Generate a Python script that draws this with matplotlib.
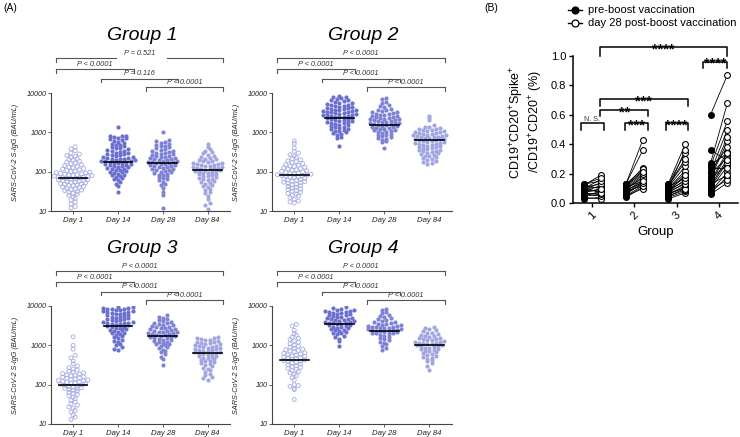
import numpy as np
import matplotlib
matplotlib.use('Agg')
import matplotlib.pyplot as plt
from matplotlib.lines import Line2D
from matplotlib.ticker import NullLocator

plt.rcParams['font.family'] = ['Liberation Sans', 'DejaVu Sans']
plt.rcParams['mathtext.default'] = 'regular'

# ---------------- panel A data (BAU/mL) ----------------
days = ['Day 1', 'Day 14', 'Day 28', 'Day 84']

g1_d1 = [12, 13, 15, 17, 19, 21, 23, 25, 27, 28, 30, 31, 33, 34, 35, 37, 38, 40, 41, 42, 44, 45, 46, 48, 49,
         50, 52, 53, 55, 56, 58, 59, 60, 62, 63, 65, 66, 68, 69, 70, 72, 73, 75, 77, 79, 80, 82, 84, 86, 88,
         90, 93, 95, 98, 101, 104, 108, 112, 116, 120, 125, 130, 136, 142, 150, 158, 166, 175, 185, 195, 205,
         215, 230, 245, 260, 280, 300, 340, 380, 430]
g1_d14 = [30, 42, 48, 55, 60, 64, 68, 72, 76, 80, 84, 88, 92, 96, 100, 104, 108, 112, 116, 120, 124, 128, 132,
          136, 140, 145, 150, 154, 158, 162, 166, 170, 174, 178, 182, 186, 190, 195, 200, 205, 210, 216, 222,
          228, 235, 242, 250, 258, 266, 275, 285, 295, 305, 318, 330, 345, 360, 375, 390, 410, 430, 450, 470,
          490, 520, 550, 580, 610, 640, 670, 700, 730, 760, 790, 800, 820, 1400]
g1_d28 = [12, 25, 30, 38, 45, 50, 55, 60, 64, 68, 72, 76, 80, 84, 88, 92, 96, 100, 104, 108, 112, 116, 120, 124,
          128, 132, 136, 140, 145, 150, 155, 160, 164, 168, 172, 176, 180, 185, 190, 195, 200, 206, 212, 218,
          225, 232, 240, 248, 256, 265, 275, 285, 295, 305, 318, 330, 345, 360, 380, 400, 420, 440, 460, 490,
          520, 550, 580, 610, 640, 1000]
g1_d84 = [11, 14, 16, 20, 24, 28, 31, 34, 37, 40, 43, 46, 49, 52, 55, 58, 61, 64, 67, 70, 73, 76, 79, 82, 85,
          88, 91, 94, 97, 100, 103, 106, 109, 112, 115, 118, 121, 124, 127, 130, 134, 138, 142, 146, 150, 155,
          160, 165, 170, 176, 182, 190, 198, 206, 215, 225, 240, 255, 270, 290, 310, 340, 380, 430, 500]

g2_d1 = [16, 17, 18, 20, 22, 24, 25, 27, 28, 30, 32, 33, 35, 36, 38, 40, 42, 44, 46, 48, 50, 52, 54, 56, 58,
         60, 62, 64, 66, 68, 70, 72, 74, 76, 78, 80, 82, 84, 86, 88, 90, 93, 96, 99, 102, 105, 108, 112, 116,
         120, 125, 130, 135, 140, 146, 152, 160, 170, 180, 190, 200, 215, 230, 250, 270, 300, 330, 400, 520, 600]
g2_d14 = [440, 720, 780, 840, 900, 950, 1000, 1050, 1100, 1150, 1200, 1250, 1300, 1350, 1400, 1450, 1500, 1560,
          1620, 1680, 1740, 1800, 1860, 1920, 1980, 2040, 2100, 2160, 2220, 2280, 2340, 2400, 2460, 2520, 2580,
          2640, 2700, 2770, 2840, 2910, 2980, 3050, 3120, 3200, 3280, 3360, 3440, 3520, 3600, 3700, 3800, 3900,
          4000, 4100, 4200, 4350, 4500, 4650, 4800, 4950, 5100, 5300, 5500, 5700, 5900, 6200, 6500, 6800, 7100,
          7400, 7700, 8000, 8500]
g2_d28 = [410, 560, 600, 640, 680, 720, 760, 800, 840, 880, 920, 960, 1000, 1040, 1080, 1120, 1160, 1200, 1240,
          1280, 1320, 1360, 1400, 1440, 1480, 1520, 1560, 1600, 1640, 1680, 1720, 1760, 1800, 1850, 1900, 1950,
          2000, 2060, 2120, 2180, 2240, 2300, 2370, 2440, 2510, 2580, 2660, 2740, 2820, 2900, 3000, 3100, 3200,
          3300, 3450, 3600, 3800, 4000, 4300, 4700, 5000, 5500, 6000, 7000, 7500]
g2_d84 = [160, 170, 180, 190, 200, 210, 220, 232, 244, 256, 268, 280, 292, 304, 316, 328, 340, 352, 364, 376,
          390, 404, 418, 432, 446, 460, 475, 490, 505, 520, 535, 550, 565, 580, 596, 612, 628, 644, 660, 676,
          692, 710, 728, 746, 764, 782, 800, 820, 840, 860, 880, 900, 925, 950, 975, 1000, 1030, 1060, 1090,
          1120, 1160, 1200, 1250, 1300, 1350, 1400, 1500, 2000, 2300, 2600]

g3_d1 = [13, 15, 17, 20, 22, 25, 27, 30, 33, 36, 40, 44, 48, 52, 56, 60, 64, 68, 72, 75, 78, 81, 84, 87, 90, 93,
         96, 99, 102, 105, 108, 111, 114, 117, 120, 124, 128, 132, 136, 140, 145, 150, 155, 160, 166, 172, 178,
         185, 192, 200, 210, 220, 235, 250, 270, 300, 340, 400, 480, 560, 800, 1000, 1650]
g3_d14 = [750, 800, 900, 1000, 1100, 1200, 1300, 1400, 1500, 1600, 1700, 1800, 1900, 2000, 2100, 2200, 2300,
          2400, 2500, 2600, 2700, 2800, 2900, 3000, 3100, 3200, 3300, 3400, 3500, 3600, 3700, 3800, 3900, 4000,
          4150, 4300, 4450, 4600, 4750, 4900, 5050, 5200, 5400, 5600, 5800, 6000, 6200, 6400, 6600, 6800, 7000,
          7200, 7400, 7600, 7800, 8000, 8200, 8400, 8600, 8800, 9000, 9200, 9500]
g3_d28 = [320, 450, 520, 600, 660, 720, 780, 840, 900, 950, 1000, 1050, 1100, 1150, 1200, 1250, 1300, 1350, 1400,
          1450, 1500, 1550, 1600, 1650, 1700, 1750, 1800, 1850, 1900, 1950, 2000, 2060, 2120, 2180, 2240, 2300,
          2380, 2460, 2540, 2620, 2700, 2800, 2900, 3000, 3100, 3200, 3350, 3500, 3650, 3800, 4000, 4200, 4500,
          4800, 5100, 5400, 6000]
g3_d84 = [130, 145, 160, 175, 190, 210, 230, 250, 270, 290, 310, 330, 350, 370, 390, 410, 430, 450, 470, 490, 510,
          530, 550, 570, 590, 610, 630, 650, 670, 690, 710, 730, 750, 775, 800, 825, 850, 875, 900, 930, 960, 990,
          1020, 1050, 1090, 1130, 1170, 1210, 1250, 1300, 1350, 1400, 1450, 1500, 1550, 1600]

g4_d1 = [42, 75, 80, 90, 95, 100, 130, 150, 170, 185, 200, 215, 230, 245, 260, 275, 290, 305, 320, 335, 350, 365,
         380, 395, 410, 425, 440, 455, 470, 485, 500, 520, 540, 560, 580, 600, 625, 650, 680, 710, 740, 770, 800,
         850, 900, 950, 1000, 1100, 1200, 1300, 1400, 1500, 1600, 1800, 2000, 2400, 3100, 3400]
g4_d14 = [950, 1300, 1450, 1600, 1750, 1900, 2000, 2100, 2200, 2300, 2400, 2500, 2600, 2700, 2800, 2900, 3000,
          3100, 3200, 3300, 3400, 3500, 3600, 3700, 3800, 3900, 4000, 4100, 4200, 4350, 4500, 4650, 4800, 4950,
          5100, 5250, 5400, 5600, 5800, 6000, 6200, 6400, 6600, 6800, 7000, 7200, 7400, 7600, 7800, 8000, 8300,
          9000, 9500]
g4_d28 = [750, 850, 950, 1050, 1150, 1250, 1350, 1450, 1550, 1650, 1750, 1850, 1950, 2000, 2050, 2100, 2150, 2200,
          2250, 2300, 2350, 2400, 2450, 2500, 2560, 2620, 2680, 2740, 2800, 2870, 2940, 3010, 3080, 3150, 3250,
          3350, 3450, 3550, 3700, 3850, 4000, 4200, 4400, 4600, 4900, 5200, 5600, 6000, 6500, 7000, 8000, 8500]
g4_d84 = [240, 300, 360, 400, 430, 460, 490, 520, 550, 580, 610, 640, 670, 700, 730, 760, 790, 820, 850, 880, 910,
          940, 970, 1000, 1030, 1060, 1090, 1120, 1150, 1180, 1210, 1250, 1290, 1330, 1370, 1410, 1460, 1510, 1560,
          1620, 1680, 1750, 1820, 1900, 2000, 2100, 2250, 2400, 2600, 2800, 3000]

groups_a = [[g1_d1, g1_d14, g1_d28, g1_d84],
            [g2_d1, g2_d14, g2_d28, g2_d84],
            [g3_d1, g3_d14, g3_d28, g3_d84],
            [g4_d1, g4_d14, g4_d28, g4_d84]]
# geometric mean lines
gmeans = [[70, 178, 168, 110],
          [81, 2380, 1580, 630],
          [100, 3100, 1700, 640],
          [430, 3500, 2250, 1030]]
pairs = [(1, 4), (1, 2), (2, 3), (3, 4)]
p_texts = [['P = 0.521', 'P < 0.0001', 'P = 0.116', 'P < 0.0001'],
           ['P < 0.0001'] * 4, ['P < 0.0001'] * 4, ['P < 0.0001'] * 4]

# ---------------- panel B data (%) ----------------
b_groups = ['1', '2', '3', '4']
pre_1 = [0.03, 0.04, 0.05, 0.05, 0.06, 0.06, 0.07, 0.07, 0.08, 0.08, 0.09, 0.09, 0.10, 0.10, 0.11, 0.11, 0.12, 0.12, 0.13, 0.13]
post_1 = [0.04, 0.03, 0.06, 0.08, 0.05, 0.07, 0.10, 0.06, 0.12, 0.09, 0.08, 0.14, 0.11, 0.16, 0.07, 0.13, 0.19, 0.10, 0.15, 0.17]
pre_2 = [0.04, 0.05, 0.05, 0.06, 0.07, 0.07, 0.08, 0.08, 0.09, 0.09, 0.10, 0.10, 0.11, 0.11, 0.12, 0.12, 0.13, 0.13, 0.13, 0.12]
post_2 = [0.11, 0.12, 0.10, 0.14, 0.13, 0.15, 0.16, 0.12, 0.18, 0.14, 0.19, 0.17, 0.20, 0.15, 0.22, 0.24, 0.23, 0.36, 0.43, 0.21]
pre_3 = [0.03, 0.04, 0.05, 0.05, 0.06, 0.06, 0.07, 0.07, 0.08, 0.08, 0.09, 0.09, 0.10, 0.10, 0.11, 0.11, 0.12, 0.12, 0.13, 0.13, 0.10, 0.08]
post_3 = [0.07, 0.08, 0.10, 0.09, 0.12, 0.11, 0.14, 0.10, 0.16, 0.13, 0.18, 0.15, 0.20, 0.22, 0.17, 0.25, 0.28, 0.30, 0.34, 0.40, 0.36, 0.19]
pre_4 = [0.06, 0.07, 0.08, 0.09, 0.10, 0.11, 0.12, 0.13, 0.14, 0.15, 0.16, 0.17, 0.18, 0.20, 0.21, 0.22, 0.24, 0.25, 0.26, 0.27, 0.36, 0.60]
post_4 = [0.14, 0.18, 0.21, 0.16, 0.25, 0.28, 0.30, 0.19, 0.33, 0.35, 0.27, 0.42, 0.45, 0.31, 0.50, 0.38, 0.24, 0.56, 0.34, 0.68, 0.29, 0.87]
pre_all = [pre_1, pre_2, pre_3, pre_4]
post_all = [post_1, post_2, post_3, post_4]
# (x1, x2, y, drop, label)
sig_b = [(1.19, 4.2, 1.06, 0.06, '****'), (3.62, 4.2, 0.959, 0.043, '****'),
         (1.19, 3.26, 0.704, 0.045, '***'), (1.19, 2.33, 0.632, 0.042, '**'),
         (0.74, 1.28, 0.542, 0.046, 'N. S.'), (1.78, 2.33, 0.542, 0.046, '***'),
         (2.74, 3.26, 0.542, 0.046, '****')]

W, H = 740, 437
fig = plt.figure(figsize=(W / 100, H / 100), dpi=100)


def px_axes(l, t, r, b):
    return fig.add_axes([l / W, 1 - b / H, (r - l) / W, (b - t) / H])


def swarm(vals, ppd, ppu, h, s):
    # GraphPad-like rows: bin in log-y, spread each row sideways,
    # lowest value of a row in the middle (gives the "smile" rows)
    y = np.log10(vals) * ppd
    bins = np.floor((y - y.min()) / h)
    xs = np.zeros(len(y))
    for b in np.unique(bins):
        idx = np.where(bins == b)[0]
        idx = idx[np.argsort(y[idx])]
        n = len(idx)
        pos = (np.arange(n) - (n - 1) / 2.0) * s
        pos = pos[np.argsort(np.abs(pos), kind='stable')]
        xs[idx] = pos
    return xs / ppu


colors = ['#a7abe3', '#6c70cf', '#7f83d6', '#a2a6e0']
boxes = [(50.7, 93, 230, 211), (271.7, 93, 452, 211), (50.7, 306, 230, 424), (271.7, 306, 452, 424)]
levels = [1.294, 1.203, 1.121, 1.048]
axis_col = '#444444'

for g in range(4):
    l, t, r, b = boxes[g]
    ax = px_axes(l, t, r, b)
    ax.set_yscale('log')
    ax.set_ylim(10, 10000)
    ax.set_xlim(0.5, 4.5)
    ppd = (b - t) / 3.0
    ppu = (r - l) / 4.0
    for k in range(4):
        vals = np.array(groups_a[g][k], dtype=float)
        x = k + 1 + swarm(vals, ppd, ppu, 3.6, 4.2)
        if k == 0:
            ax.scatter(x, vals, s=8, facecolors='none', edgecolors=colors[k], linewidths=0.6, zorder=2)
        else:
            ax.scatter(x, vals, s=9, color=colors[k], linewidths=0, zorder=2)
        ax.plot([k + 1 - 0.32, k + 1 + 0.32], [gmeans[g][k]] * 2, color='black', lw=1.2, zorder=3)

    ax.set_yticks([10, 100, 1000, 10000])
    ax.set_yticklabels(['10', '100', '1000', '10000'])
    ax.yaxis.set_minor_locator(NullLocator())
    ax.set_xticks([1, 2, 3, 4])
    ax.set_xticklabels(days)
    for s in ['top', 'right']:
        ax.spines[s].set_visible(False)
    for s in ['left', 'bottom']:
        ax.spines[s].set_color(axis_col)
        ax.spines[s].set_linewidth(0.8)
    ax.tick_params(axis='y', length=2, width=0.6, color=axis_col, pad=1, labelsize=5.2)
    ax.tick_params(axis='x', length=2, width=0.6, color=axis_col, pad=2, labelsize=5.6)
    for lab in ax.get_xticklabels() + ax.get_yticklabels():
        lab.set_fontstyle('italic')
        lab.set_color('#222222')
    ax.set_ylabel('SARS-CoV-2 S-IgG (BAU/mL)', fontsize=5.2, style='italic', color='#222222')
    ax.yaxis.set_label_coords(-0.175, 0.5)
    ax.text(0.51, 1.49, 'Group %d' % (g + 1), transform=ax.transAxes, ha='center', va='center',
            fontsize=14, style='italic')

    trans = ax.get_xaxis_transform()
    for n, (i, j) in enumerate(pairs):
        x1, x2, yl = i - 0.38, j + 0.35, levels[n]
        txt = p_texts[g][n]
        if g == 0 and n == 0:
            segs = [(x1, 1.96), (3.10, x2)]
        else:
            segs = [(x1, x2)]
        for a, c in segs:
            ax.plot([a, c], [yl, yl], color='#555555', lw=0.8, transform=trans, clip_on=False)
        ax.plot([x1, x1], [yl, yl - 0.03], color='#555555', lw=0.8, transform=trans, clip_on=False)
        ax.plot([x2, x2], [yl, yl - 0.03], color='#555555', lw=0.8, transform=trans, clip_on=False)
        ax.text((x1 + x2) / 2, yl + 0.012, txt, transform=trans, ha='center', va='bottom',
                fontsize=5.3, style='italic', color='#333333')

# ---------------- panel B ----------------
axb = px_axes(573, 55.7, 738, 203.3)
axb.set_xlim(0.55, 4.45)
axb.set_ylim(0, 1.0)
for g in range(4):
    xc = g + 1
    for a, c in zip(pre_all[g], post_all[g]):
        axb.plot([xc - 0.2, xc + 0.2], [a, c], color='black', lw=0.6, zorder=2)
    axb.plot([xc - 0.2] * len(pre_all[g]), pre_all[g], 'o', color='black', ms=4, zorder=3)
    axb.plot([xc + 0.2] * len(post_all[g]), post_all[g], 'o', mfc='white', mec='black', mew=0.8,
             ms=4.2, zorder=4)

axb.set_xticks([1, 2, 3, 4])
axb.set_xticklabels(b_groups, rotation=45, fontsize=8)
axb.set_yticks([0.0, 0.2, 0.4, 0.6, 0.8, 1.0])
axb.set_yticklabels(['0.0', '0.2', '0.4', '0.6', '0.8', '1.0'], fontsize=8)
for s in ['top', 'right']:
    axb.spines[s].set_visible(False)
for s in ['left', 'bottom']:
    axb.spines[s].set_linewidth(1.1)
axb.tick_params(length=3, width=1.0, pad=2)
axb.set_xlabel('Group', fontsize=9.5, labelpad=3)
axb.set_ylabel('CD19$^{+}$CD20$^{+}$Spike$^{+}$\n/CD19$^{+}$CD20$^{+}$ (%)', fontsize=9, linespacing=1.1)
axb.yaxis.set_label_coords(-0.17, 0.55)

for x1, x2, yl, drop, lab in sig_b:
    axb.plot([x1, x1, x2, x2], [yl - drop, yl, yl, yl - drop], color='black', lw=1.1, clip_on=False)
    if lab.startswith('N'):
        axb.text((x1 + x2) / 2, yl + 0.004, lab, ha='center', va='bottom', fontsize=5, color='#333333')
    else:
        axb.text((x1 + x2) / 2, yl - 0.042, lab, ha='center', va='baseline', fontsize=10.5,
                 fontweight='bold', clip_on=False)

# legend drawn by hand in figure pixels
for yy, filled, lab in [(10, True, 'pre-boost vaccination'), (23, False, 'day 28 post-boost vaccination')]:
    fy = 1 - yy / H
    fig.add_artist(Line2D([568 / W, 582 / W], [fy, fy], color='black', lw=1.0))
    fig.add_artist(Line2D([575 / W], [fy], marker='o', ms=5, mec='black',
                          mfc='black' if filled else 'white', mew=0.9, color='black'))
    fig.text(588 / W, fy, lab, fontsize=8, va='center', ha='left')

fig.text(3 / W, 1 - 8 / H, '(A)', fontsize=7.5, va='center', ha='left')
fig.text(484 / W, 1 - 8 / H, '(B)', fontsize=7.5, va='center', ha='left')

fig.savefig('out.png', dpi=100)
